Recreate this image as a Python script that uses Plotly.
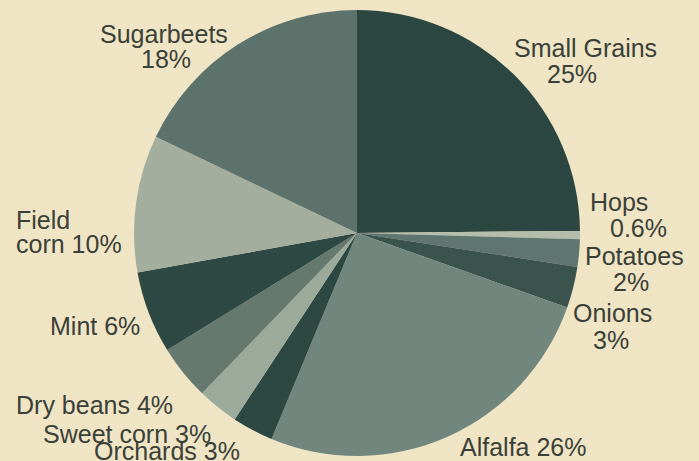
import plotly.graph_objects as go

# Data (clockwise from 12 o'clock)
crops = ["Small Grains", "Hops", "Potatoes", "Onions", "Alfalfa", "Orchards",
         "Sweet corn", "Dry beans", "Mint", "Field corn", "Sugarbeets"]
shares = [25, 0.6, 2, 3, 26, 3, 3, 4, 6, 10, 18]
share_labels = ["25%", "0.6%", "2%", "3%", "26%", "3%", "3%", "4%", "6%", "10%", "18%"]
colors = ["#2c4641", "#b4bcab", "#5f7570", "#3a534d", "#71867d", "#2d4843",
          "#9caa9b", "#65796f", "#2e4843", "#a3ae9f", "#5d726b"]

W, H = 699, 461
BG = "#efe5c5"
TXT = "#3a4037"

fig = go.Figure(go.Pie(
    labels=crops, values=shares, sort=False, direction="clockwise", rotation=0,
    marker=dict(colors=colors, line=dict(width=0)),
    textinfo="none", hoverinfo="label+percent", showlegend=False,
    domain=dict(x=[134 / W, 580 / W], y=[5 / H, 451 / H]),
))

# label layout: (text, x px, y px, anchor)
label_lines = [
    ("Sugarbeets", 164, 34, "center"), ("18%", 166, 59, "center"),
    ("Small Grains", 585, 48, "center"), ("25%", 572, 74, "center"),
    ("Hops", 619, 202, "center"), ("0.6%", 638, 228, "center"),
    ("Potatoes", 634, 256, "center"), ("2%", 631, 282, "center"),
    ("Onions", 612, 313, "center"), ("3%", 611, 340, "center"),
    ("Alfalfa 26%", 523, 447, "center"),
    ("Orchards 3%", 167, 451, "center"),
    ("Sweet corn 3%", 127, 434, "center"),
    ("Dry beans 4%", 94, 405, "center"),
    ("Mint 6%", 95, 326, "center"),
    ("Field", 14, 220, "left"), ("corn 10%", 14, 244, "left"),
]

for text, x, y, anchor in label_lines:
    fig.add_annotation(
        text=text, x=x / W, y=1 - y / H, xref="paper", yref="paper",
        xanchor=anchor, yanchor="middle", showarrow=False,
        font=dict(family="Liberation Sans, Arial, sans-serif", size=25, color=TXT),
    )

fig.update_layout(
    width=W, height=H, margin=dict(l=0, r=0, t=0, b=0),
    paper_bgcolor=BG, plot_bgcolor=BG,
)

fig.write_html(
    "out.html",
    config={"displayModeBar": False},
    post_script="document.body.style.margin='0';document.body.style.overflow='hidden';",
)
